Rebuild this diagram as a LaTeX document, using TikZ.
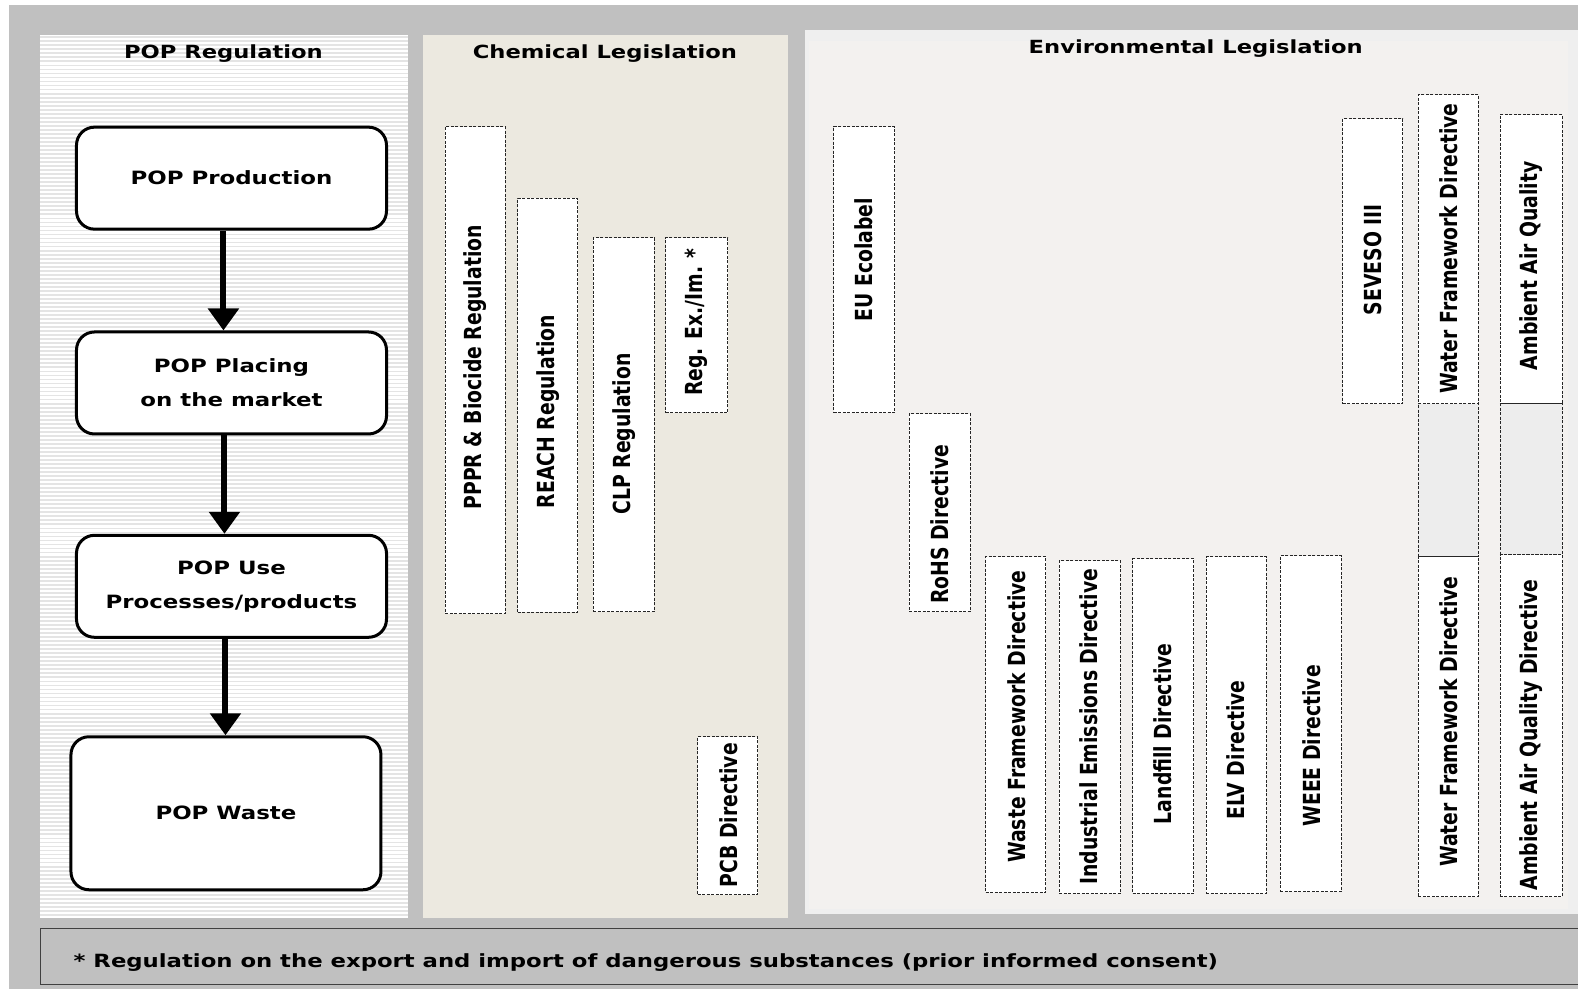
\documentclass[tikz,border=0pt]{standalone}
\usepackage{fontspec}
\setmainfont{DejaVu Sans}[FakeStretch=1.25]
\newfontfamily\vfont{DejaVu Sans}
\usetikzlibrary{arrows.meta}
\definecolor{bggray}{HTML}{C0C0C0}
\definecolor{chemfill}{HTML}{ECE9E0}
\definecolor{envfill}{HTML}{F3F1EF}
\definecolor{envouter}{HTML}{EFEFEF}
\definecolor{stripe}{HTML}{E4E4E4}
\definecolor{midfill}{HTML}{EDEDED}
\newcommand{\vtxt}[1]{\scalebox{1}[1.25]{#1}}
\tikzset{
  title/.style={font=\bfseries\fontsize{18.1}{22}\selectfont, inner sep=0pt},
  popbox/.style={draw=black, line width=3pt, rounded corners=18pt, fill=white,
    minimum width=310pt, align=center, font=\bfseries\fontsize{18.3}{34.2}\selectfont},
  dbox/.style={draw=black!85, fill=white, line width=0.8pt, dash pattern=on 3pt off 1.5pt},
  midbox/.style={dbox, fill=midfill},
  vlab/.style={rotate=90, font=\vfont\bfseries\fontsize{18.8}{20}\selectfont, inner sep=0pt},
  arr/.style={line width=6pt, -{Triangle[width=30pt,length=22pt]}},
}
\begin{document}
\begin{tikzpicture}[x=1.0065pt,y=-1.0065pt]
\useasboundingbox (0,0) rectangle (1567.8,982.6);
\clip (0,0) rectangle (1567.8,982.6);
\fill[white] (0,0) rectangle (1570,990);
\fill[bggray] (9,5) rectangle (1570,990);
% panels
\fill[white] (40,35) rectangle (405,912);
\foreach \yy in {37,41,...,909} \draw[stripe, line width=1.8pt] (40,\yy) -- (405,\yy);
\fill[chemfill] (420,35) rectangle (783,912);
\fill[envouter] (800,30) rectangle (1570,908);
\fill[envfill] (804,41) rectangle (1558,903);
% titles
\node[title] (t1) at (222,53) {POP Regulation};
\node[title] (t2) at (601,53) {Chemical Legislation};
\node[title] (t3) at (1188,48) {Environmental Legislation};
% POP flow
\node[popbox, minimum height=102pt] (prod) at (230,177) {POP Production};
\node[popbox, minimum height=102pt] (place) at (230,380.5) {POP Placing\\on the market};
\node[popbox, minimum height=102pt] (use) at (230,582.5) {POP Use\\Processes/products};
\node[popbox, minimum height=153pt] (waste) at (224.5,808) {POP Waste};
\draw[arr] (prod.south -| 222,0) -- (place.north -| 222,0);
\draw[arr] (place.south -| 223,0) -- (use.north -| 223,0);
\draw[arr] (use.south -| 224,0) -- (waste.north -| 224,0);
% chemical legislation boxes
\node[dbox, minimum width=60pt, minimum height=487pt] (pppr) at (472,368) {};
\node[vlab] (lpppr) at (472,365) {\vtxt{PPPR \& Biocide Regulation}};
\node[dbox, minimum width=60pt, minimum height=414pt] (reach) at (544,402.5) {};
\node[vlab] (lreach) at (545,409) {\vtxt{REACH Regulation}};
\node[dbox, minimum width=61pt, minimum height=374pt] (clp) at (619.5,422) {};
\node[vlab] (lclp) at (620,431) {\vtxt{CLP Regulation}};
\node[dbox, minimum width=62pt, minimum height=175pt] (regex) at (692,323) {};
\node[vlab] (lregex) at (692,320) {\vtxt{Reg. Ex./Im. *}};
\node[dbox, minimum width=60pt, minimum height=158pt] (pcb) at (723,810.5) {};
\node[vlab] (lpcb) at (724,810) {\vtxt{PCB Directive}};
% environmental legislation boxes
\node[dbox, minimum width=61pt, minimum height=286pt] (eco) at (858.5,268) {};
\node[vlab] (leco) at (858,258) {\vtxt{EU Ecolabel}};
\node[dbox, minimum width=61pt, minimum height=198pt] (rohs) at (933.5,509.5) {};
\node[vlab] (lrohs) at (934,521) {\vtxt{RoHS Directive}};
\node[dbox, minimum width=60pt, minimum height=336pt] (wfd) at (1009,720) {};
\node[vlab] (lwfd) at (1010,712) {\vtxt{Waste Framework Directive}};
\node[dbox, minimum width=61pt, minimum height=333pt] (ied) at (1082.5,722.5) {};
\node[vlab] (lied) at (1082,722) {\vtxt{Industrial Emissions Directive}};
\node[dbox, minimum width=61pt, minimum height=335pt] (lfd) at (1155.5,721.5) {};
\node[vlab] (llfd) at (1155,729) {\vtxt{Landfill Directive}};
\node[dbox, minimum width=60pt, minimum height=337pt] (elv) at (1228,720.5) {};
\node[vlab] (lelv) at (1228,745) {\vtxt{ELV Directive}};
\node[dbox, minimum width=61pt, minimum height=336pt] (weee) at (1302.5,719) {};
\node[vlab] (lweee) at (1303,741) {\vtxt{WEEE Directive}};
\node[dbox, minimum width=60pt, minimum height=285pt] (sev) at (1364,259.5) {};
\node[vlab] (lsev) at (1364,258) {\vtxt{SEVESO III}};
\node[dbox, minimum width=60pt, minimum height=309pt] (wat1) at (1439,247.5) {};
\node[vlab] (lwat1) at (1439,247) {\vtxt{Water Framework Directive}};
\node[midbox, minimum width=60pt, minimum height=153pt] (wat2) at (1439,477) {};
\node[dbox, minimum width=60pt, minimum height=340pt] (wat3) at (1439,722) {};
\node[vlab] (lwat3) at (1439,717) {\vtxt{Water Framework Directive}};
\node[dbox, minimum width=62pt, minimum height=289pt] (amb1) at (1521,257.5) {};
\node[vlab] (lamb1) at (1521,264) {\vtxt{Ambient Air Quality}};
\node[midbox, minimum width=62pt, minimum height=151pt] (amb2) at (1521,476) {};
\node[dbox, minimum width=62pt, minimum height=342pt] (amb3) at (1521,721) {};
\node[vlab] (lamb3) at (1521,730) {\vtxt{Ambient Air Quality Directive}};
% footnote
\draw[draw=black!75, fill=bggray, line width=1pt] (40,922) rectangle (1590,978);
\node[title, anchor=west, font=\bfseries\fontsize{18.2}{22}\selectfont] (foot) at (73,956) {* Regulation on the export and import of dangerous substances (prior informed consent)};
\end{tikzpicture}
\end{document}
